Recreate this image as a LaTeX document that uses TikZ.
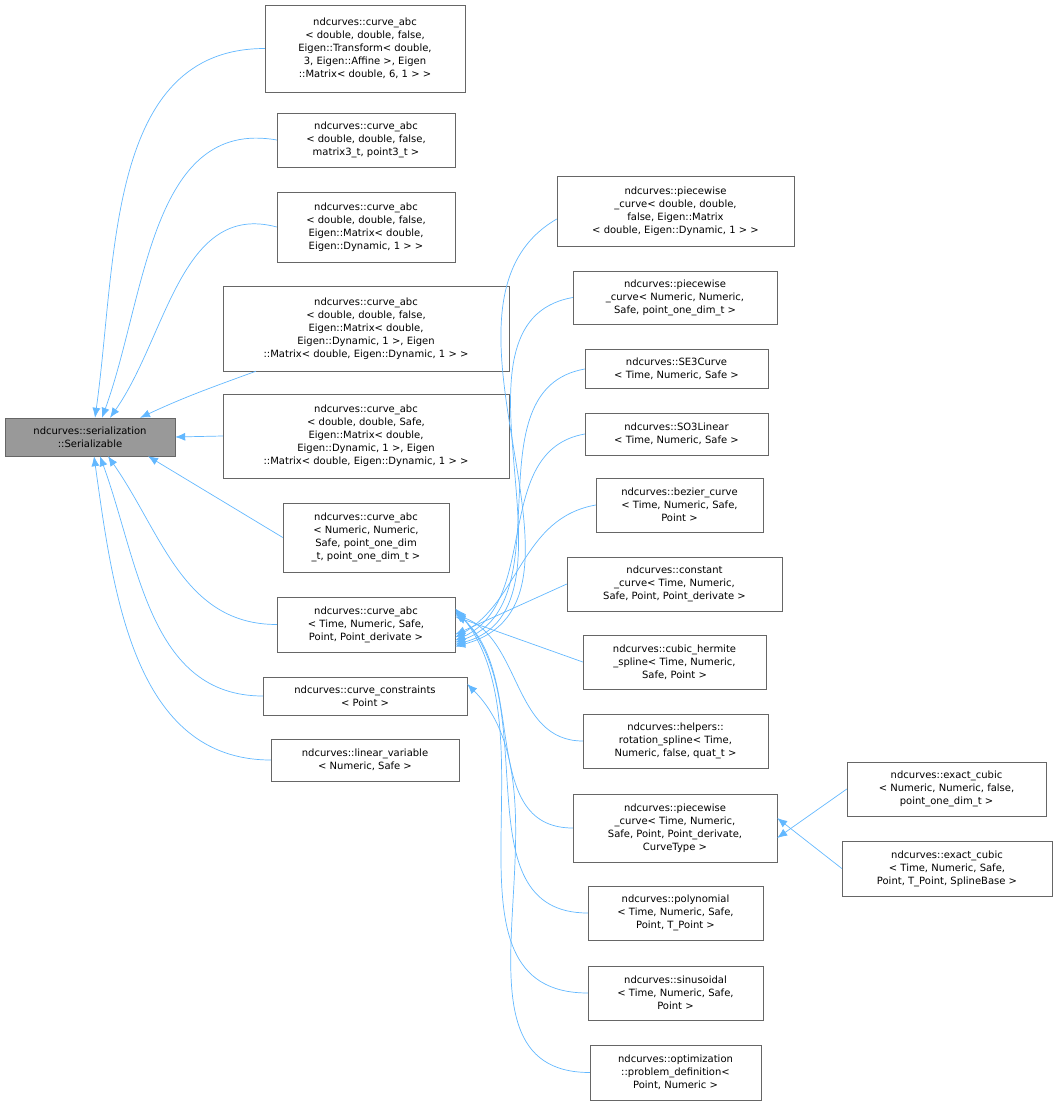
\documentclass[tikz,border=0pt]{standalone}
\usepackage{fontspec}
\setmainfont{DejaVu Sans}
\usetikzlibrary{arrows.meta}
\definecolor{edgeblue}{HTML}{63B8FF}
\tikzset{
  cls/.style={draw=black!60, fill=white, align=center, inner sep=0pt,
    font=\fontsize{10pt}{13pt}\selectfont},
  rootcls/.style={cls, fill=black!40},
  inh/.style={draw=edgeblue, line width=0.7pt, -{Latex[length=10pt,width=8pt]}}
}
\begin{document}
\begin{tikzpicture}[x=1pt, y=-1pt]
	\useasboundingbox (0,0) rectangle (1059,1105);
	% base class
	\node[rootcls, minimum width=170, minimum height=38] (root) at (90,437) {ndcurves::serialization\\::Serializable};
	% middle column
	\node[cls, minimum width=200, minimum height=87] (abcT) at (365,48.5) {ndcurves::curve\_abc\\< double, double, false,\\ Eigen::Transform< double,\\ 3, Eigen::Affine >, Eigen\\::Matrix< double, 6, 1 > >};
	\node[cls, minimum width=178, minimum height=54] (abcM) at (366,140) {ndcurves::curve\_abc\\< double, double, false,\\ matrix3\_t, point3\_t >};
	\node[cls, minimum width=178, minimum height=70] (abcD) at (366,227) {ndcurves::curve\_abc\\< double, double, false,\\ Eigen::Matrix< double,\\ Eigen::Dynamic, 1 > >};
	\node[cls, minimum width=286, minimum height=85] (abcDD) at (366,328.5) {ndcurves::curve\_abc\\< double, double, false,\\ Eigen::Matrix< double,\\ Eigen::Dynamic, 1 >, Eigen\\::Matrix< double, Eigen::Dynamic, 1 > >};
	\node[cls, minimum width=286, minimum height=84] (abcS) at (366,436) {ndcurves::curve\_abc\\< double, double, Safe,\\ Eigen::Matrix< double,\\ Eigen::Dynamic, 1 >, Eigen\\::Matrix< double, Eigen::Dynamic, 1 > >};
	\node[cls, minimum width=166, minimum height=69] (abcN) at (366,537.5) {ndcurves::curve\_abc\\< Numeric, Numeric,\\ Safe, point\_one\_dim\\\_t, point\_one\_dim\_t >};
	\node[cls, minimum width=178, minimum height=55] (abc) at (366,624.5) {ndcurves::curve\_abc\\< Time, Numeric, Safe,\\ Point, Point\_derivate >};
	\node[cls, minimum width=204, minimum height=38] (constr) at (365,696) {ndcurves::curve\_constraints\\< Point >};
	\node[cls, minimum width=188, minimum height=42] (linvar) at (365,760) {ndcurves::linear\_variable\\< Numeric, Safe >};
	% right column
	\node[cls, minimum width=237, minimum height=70] (pwD) at (675.5,211) {ndcurves::piecewise\\\_curve< double, double,\\ false, Eigen::Matrix\\< double, Eigen::Dynamic, 1 > >};
	\node[cls, minimum width=204, minimum height=53] (pwN) at (675,297.5) {ndcurves::piecewise\\\_curve< Numeric, Numeric,\\ Safe, point\_one\_dim\_t >};
	\node[cls, minimum width=183, minimum height=39] (se3) at (676.5,369) {ndcurves::SE3Curve\\< Time, Numeric, Safe >};
	\node[cls, minimum width=183, minimum height=42] (so3) at (676.5,434) {ndcurves::SO3Linear\\< Time, Numeric, Safe >};
	\node[cls, minimum width=167, minimum height=54] (bez) at (679.5,505) {ndcurves::bezier\_curve\\< Time, Numeric, Safe,\\ Point >};
	\node[cls, minimum width=215, minimum height=54] (cst) at (674.5,584) {ndcurves::constant\\\_curve< Time, Numeric,\\ Safe, Point, Point\_derivate >};
	\node[cls, minimum width=183, minimum height=54] (herm) at (674.5,662) {ndcurves::cubic\_hermite\\\_spline< Time, Numeric,\\ Safe, Point >};
	\node[cls, minimum width=185, minimum height=54] (rot) at (675.5,741) {ndcurves::helpers::\\rotation\_spline< Time,\\ Numeric, false, quat\_t >};
	\node[cls, minimum width=204, minimum height=68] (pw) at (675,828) {ndcurves::piecewise\\\_curve< Time, Numeric,\\ Safe, Point, Point\_derivate,\\ CurveType >};
	\node[cls, minimum width=175, minimum height=54] (poly) at (675.5,913) {ndcurves::polynomial\\< Time, Numeric, Safe,\\ Point, T\_Point >};
	\node[cls, minimum width=175, minimum height=54] (sin) at (675.5,993) {ndcurves::sinusoidal\\< Time, Numeric, Safe,\\ Point >};
	\node[cls, minimum width=171, minimum height=55] (opt) at (675.5,1072.5) {ndcurves::optimization\\::problem\_definition<\\ Point, Numeric >};
	% far right
	\node[cls, minimum width=199, minimum height=54] (exN) at (946.5,789) {ndcurves::exact\_cubic\\< Numeric, Numeric, false,\\ point\_one\_dim\_t >};
	\node[cls, minimum width=210, minimum height=55] (exT) at (947,868.5) {ndcurves::exact\_cubic\\< Time, Numeric, Safe,\\ Point, T\_Point, SplineBase >};
	% inheritance to root
	\draw[inh] (abcT.west) to[out=180,in=82] ([xshift=5]root.north);
	\draw[inh] (abcM.west) to[out=170,in=70] ([xshift=12]root.north);
	\draw[inh] (abcD.west) to[out=165,in=55] ([xshift=20]root.north);
	\draw[inh] ([xshift=-110]abcDD.south) to[out=200,in=25] ([xshift=50]root.north);
	\draw[inh] (abcS.west) -- (root.east);
	\draw[inh] (abcN.west) -- ([xshift=58]root.south);
	\draw[inh] (abc.west) to[out=180,in=-55] ([xshift=18]root.south);
	\draw[inh] (constr.west) to[out=180,in=-70] ([xshift=10]root.south);
	\draw[inh] (linvar.west) to[out=180,in=-82] ([xshift=4]root.south);
	% inheritance to curve_abc
	\draw[inh] ([yshift=-8]pwD.west) to[out=210,in=15] ([yshift=-22]abc.east);
	\draw[inh] (pwN.west) to[out=190,in=15] ([yshift=-20]abc.east);
	\draw[inh] (se3.west) to[out=190,in=20] ([yshift=-18]abc.east);
	\draw[inh] (so3.west) to[out=190,in=25] ([yshift=-16]abc.east);
	\draw[inh] (bez.west) to[out=190,in=30] ([yshift=-13]abc.east);
	\draw[inh] (cst.west) -- ([yshift=-10]abc.east);
	\draw[inh] (herm.west) -- ([yshift=8]abc.east);
	\draw[inh] (rot.west) to[out=180,in=-20] ([yshift=10]abc.east);
	\draw[inh] (pw.west) to[out=180,in=-40] ([yshift=12]abc.east);
	\draw[inh] (poly.west) to[out=180,in=-45] ([yshift=14]abc.east);
	\draw[inh] (sin.west) to[out=180,in=-50] ([yshift=16]abc.east);
	\draw[inh] (opt.west) to[out=180,in=-45] ([yshift=12]constr.east);
	% inheritance to piecewise_curve
	\draw[inh] (exN.west) -- ([yshift=-10]pw.east);
	\draw[inh] (exT.west) -- ([yshift=10]pw.east);
\end{tikzpicture}
\end{document}
